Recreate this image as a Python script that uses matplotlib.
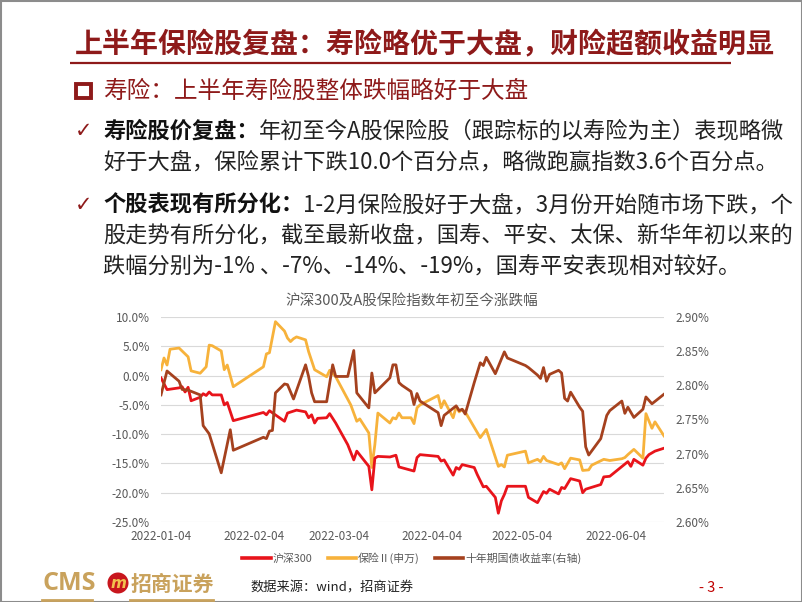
import matplotlib
matplotlib.use("Agg")
import matplotlib.pyplot as plt
import matplotlib.dates as mdates
import matplotlib.ticker as mticker
import pandas as pd
from matplotlib.patches import Rectangle, Circle

plt.rcParams['font.family'] = ['Noto Sans CJK SC', 'DejaVu Sans']

# ---------------- data ----------------
hs300_dates = ["2022-01-04","2022-01-06","2022-01-10","2022-01-11","2022-01-12","2022-01-13","2022-01-14","2022-01-17",
               "2022-01-18","2022-01-19","2022-01-20","2022-01-21","2022-01-24","2022-01-25","2022-01-26","2022-01-28",
               "2022-02-07","2022-02-08","2022-02-09","2022-02-14","2022-02-15","2022-02-18","2022-02-21","2022-02-22",
               "2022-02-23","2022-02-24","2022-02-25","2022-02-28",
               "2022-03-01","2022-03-03","2022-03-07","2022-03-09","2022-03-10","2022-03-14","2022-03-15","2022-03-16",
               "2022-03-17","2022-03-21","2022-03-23","2022-03-24","2022-03-29","2022-03-30","2022-03-31",
               "2022-04-06","2022-04-07","2022-04-08","2022-04-11","2022-04-12","2022-04-13","2022-04-14","2022-04-18",
               "2022-04-19","2022-04-21","2022-04-22","2022-04-25","2022-04-26","2022-04-27","2022-04-28","2022-04-29",
               "2022-05-05","2022-05-06","2022-05-09","2022-05-11","2022-05-12","2022-05-13","2022-05-16","2022-05-17",
               "2022-05-18","2022-05-20","2022-05-23","2022-05-24","2022-05-25","2022-05-30","2022-05-31",
               "2022-06-02","2022-06-08","2022-06-09","2022-06-10","2022-06-13","2022-06-14","2022-06-15","2022-06-17",
               "2022-06-20"]
hs300_values = [-0.4,-2.4,-2.1,-1.9,-2.8,-2.0,-4.3,-3.7,-3.1,-3.4,-2.8,-3.3,-3.3,-5.0,-4.6,-7.7,
                -6.3,-6.7,-6.0,-7.8,-6.4,-5.9,-6.2,-7.2,-6.7,-8.1,-7.3,-7.2,
                -6.5,-8.1,-11.8,-14.4,-12.9,-15.5,-19.5,-14.1,-13.8,-13.9,-13.6,-15.6,-16.3,-14.0,-13.5,
                -13.8,-14.6,-14.4,-17.0,-15.7,-16.0,-15.2,-15.7,-16.9,-19.0,-18.9,-20.8,-23.5,-21.4,-20.3,-18.9,
                -18.9,-20.8,-21.7,-19.8,-20.1,-19.4,-20.2,-19.1,-19.3,-17.6,-18.0,-20.0,-19.4,-18.6,-17.3,
                -17.2,-14.7,-15.5,-14.3,-15.3,-14.1,-13.5,-12.9,-12.4]

ins_dates = ["2022-01-04","2022-01-05","2022-01-06","2022-01-07","2022-01-10","2022-01-13","2022-01-14","2022-01-17",
             "2022-01-19","2022-01-20","2022-01-21","2022-01-24","2022-01-25","2022-01-26","2022-01-28",
             "2022-02-07","2022-02-08","2022-02-09","2022-02-11","2022-02-14","2022-02-15","2022-02-16","2022-02-17",
             "2022-02-18","2022-02-21","2022-02-22","2022-02-24","2022-02-28",
             "2022-03-01","2022-03-03","2022-03-08","2022-03-10","2022-03-11","2022-03-14","2022-03-15","2022-03-16",
             "2022-03-17","2022-03-21","2022-03-22","2022-03-23","2022-03-24","2022-03-25","2022-03-28","2022-03-29",
             "2022-03-30","2022-03-31",
             "2022-04-06","2022-04-07","2022-04-08","2022-04-11","2022-04-12","2022-04-13","2022-04-14","2022-04-15",
             "2022-04-20","2022-04-22","2022-04-26","2022-04-27","2022-04-28","2022-04-29",
             "2022-05-05","2022-05-06","2022-05-09","2022-05-10","2022-05-11","2022-05-12","2022-05-16","2022-05-17",
             "2022-05-18","2022-05-20","2022-05-23","2022-05-24","2022-05-26","2022-05-27","2022-05-31",
             "2022-06-02","2022-06-06","2022-06-07","2022-06-08","2022-06-10","2022-06-13","2022-06-14","2022-06-16",
             "2022-06-17","2022-06-20"]
ins_values = [1.0,3.0,1.8,4.5,4.7,3.2,0.8,0.4,1.5,5.2,5.1,4.2,1.0,1.8,-1.9,
              1.5,3.7,3.9,9.2,7.6,6.4,5.8,6.3,6.6,6.1,4.1,1.0,-0.2,
              0.9,-0.2,-5.0,-7.8,-7.4,-9.8,-15.7,-11.8,-6.4,-8.1,-7.2,-7.4,-6.4,-7.2,-7.2,-8.2,-5.5,-5.0,
              -3.4,-5.5,-4.3,-7.2,-5.3,-6.2,-5.8,-6.2,-10.6,-9.2,-15.5,-15.2,-15.6,-13.6,
              -12.9,-14.9,-14.3,-14.7,-13.8,-14.5,-15.2,-14.9,-15.9,-14.1,-14.4,-16.2,-16.1,-15.3,-14.3,
              -14.5,-14.2,-14.0,-13.5,-12.6,-14.1,-6.5,-9.0,-7.9,-10.3]

yield_dates = ["2022-01-04","2022-01-06","2022-01-10","2022-01-11","2022-01-13","2022-01-17","2022-01-18","2022-01-20",
               "2022-01-24","2022-01-27","2022-01-28",
               "2022-02-07","2022-02-08","2022-02-09","2022-02-10","2022-02-11","2022-02-14","2022-02-15","2022-02-17",
               "2022-02-21","2022-02-22","2022-02-23","2022-02-24","2022-02-28",
               "2022-03-02","2022-03-03","2022-03-07","2022-03-09","2022-03-10","2022-03-14","2022-03-15","2022-03-16",
               "2022-03-21","2022-03-22","2022-03-23","2022-03-24","2022-03-25","2022-03-28","2022-03-29","2022-03-30",
               "2022-03-31",
               "2022-04-06","2022-04-07","2022-04-08","2022-04-12","2022-04-13","2022-04-14","2022-04-15","2022-04-18",
               "2022-04-20","2022-04-21","2022-04-22","2022-04-25","2022-04-28","2022-04-29",
               "2022-05-05","2022-05-06","2022-05-09","2022-05-10","2022-05-11","2022-05-12","2022-05-13","2022-05-16",
               "2022-05-17","2022-05-18","2022-05-19","2022-05-20","2022-05-23","2022-05-24","2022-05-25","2022-05-26",
               "2022-05-30",
               "2022-06-01","2022-06-02","2022-06-06","2022-06-07","2022-06-08","2022-06-10","2022-06-13","2022-06-14",
               "2022-06-16","2022-06-20"]
yield_values = [2.786,2.821,2.806,2.794,2.793,2.786,2.741,2.729,2.672,2.735,2.705,
                2.724,2.722,2.733,2.734,2.789,2.802,2.801,2.780,2.830,2.813,2.789,2.776,2.776,
                2.830,2.813,2.813,2.851,2.789,2.767,2.818,2.789,2.811,2.830,2.830,2.804,2.800,2.791,2.772,2.788,2.777,
                2.760,2.741,2.756,2.770,2.763,2.765,2.758,2.804,2.833,2.829,2.841,2.817,2.849,2.840,
                2.829,2.826,2.815,2.810,2.826,2.806,2.816,2.822,2.818,2.781,2.777,2.790,2.768,2.762,2.710,2.698,2.722,
                2.756,2.763,2.777,2.759,2.768,2.753,2.765,2.783,2.773,2.787]

series_labels = ["沪深300", "保险Ⅱ(申万)", "十年期国债收益率(右轴)"]
left_ticks = [10, 5, 0, -5, -10, -15, -20, -25]
right_ticks = [2.90, 2.85, 2.80, 2.75, 2.70, 2.65, 2.60]
x_tick_dates = ["2022-01-04", "2022-02-04", "2022-03-04", "2022-04-04", "2022-05-04", "2022-06-04"]

title_text = "上半年保险股复盘：寿险略优于大盘，财险超额收益明显"
header_text = "寿险：上半年寿险股整体跌幅略好于大盘"
b1_bold = "寿险股价复盘："
b1_rest = "年初至今A股保险股（跟踪标的以寿险为主）表现略微"
b1_l2 = "好于大盘，保险累计下跌10.0个百分点，略微跑赢指数3.6个百分点。"
b2_bold = "个股表现有所分化："
b2_rest = "1-2月保险股好于大盘，3月份开始随市场下跌，个"
b2_l2 = "股走势有所分化，截至最新收盘，国寿、平安、太保、新华年初以来的"
b2_l3 = "跌幅分别为-1% 、-7%、-14%、-19%，国寿平安表现相对较好。"
chart_title = "沪深300及A股保险指数年初至今涨跌幅"
source_text = "数据来源：wind，招商证券"
page_text = "- 3 -"

# ---------------- figure ----------------
W, H = 802, 602
fig = plt.figure(figsize=(W / 100, H / 100), dpi=100)
fig.patch.set_facecolor("white")

ov = fig.add_axes([0, 0, 1, 1])
ov.set_xlim(0, W)
ov.set_ylim(H, 0)
ov.axis("off")
ov.set_zorder(0)

DARKRED = "#8E1A1A"
GOLD = "#C9A25C"

title = ov.text(75, 45, title_text, fontsize=18.6, fontweight="bold", color=DARKRED, va="center", ha="left")
ov.plot([70, 731], [63, 63], color=DARKRED, lw=1.6, solid_capstyle="butt")

ov.add_patch(Rectangle((76, 84), 15, 14, fill=False, edgecolor=DARKRED, lw=2.8))
ov.text(103, 91, header_text, fontsize=17, color=DARKRED, va="center", ha="left")

def bullet(y, bold, rest):
    ov.text(75, y, "✓", fontsize=15, color=DARKRED, va="center", ha="left",
            family=["DejaVu Sans"], fontweight="bold")
    t = ov.text(103, y, bold, fontsize=16, fontweight="bold", color="#111111", va="center", ha="left")
    ov.annotate(rest, xy=(1, 0.5), xycoords=t, va="center", ha="left", fontsize=16, color="#222222")

bullet(131, b1_bold, b1_rest)
ov.text(103, 162, b1_l2, fontsize=16, color="#222222", va="center", ha="left")
bullet(205, b2_bold, b2_rest)
ov.text(103, 236, b2_l2, fontsize=16, color="#222222", va="center", ha="left")
ov.text(103, 267, b2_l3, fontsize=16, color="#222222", va="center", ha="left")

ov.text(412, 302, chart_title, fontsize=10.5, color="#595959", va="center", ha="center")

# footer
ov.text(42, 584, "CMS", fontsize=18, fontweight="bold", color=GOLD, va="center", ha="left",
        family=["Open Sans", "DejaVu Sans"])
ov.add_patch(Circle((118, 583), 10.5, facecolor="#C8161D", edgecolor="none"))
ov.text(118, 583, "m", fontsize=11, fontweight="bold", fontstyle="italic", color="#F2C14E",
        va="center", ha="center", family=["DejaVu Sans"])
ov.text(131, 584, "招商证券", fontsize=15, fontweight="bold", color=GOLD, va="center", ha="left")
ov.plot([42, 92], [600, 600], color=GOLD, lw=2)
ov.plot([130, 213], [600, 600], color=GOLD, lw=2)
ov.text(250, 588, source_text, fontsize=9.5, color="#222222", va="center", ha="left")
ov.text(711, 588, page_text, fontsize=10.5, color="#C00000", va="center", ha="center")

ov.add_patch(Rectangle((0.5, 0.5), W - 1, H - 1, fill=False, edgecolor="#8C8C8C", lw=1.5))

# ---------------- chart ----------------
x0, x1, ytop, ybot = 161, 664, 317, 522
ax = fig.add_axes([x0 / W, 1 - ybot / H, (x1 - x0) / W, (ybot - ytop) / H])
ax.set_zorder(1)
ax.patch.set_alpha(0)

RED = "#E8141B"
YEL = "#F7B23B"
BRN = "#A5411E"

d_hs = pd.to_datetime(hs300_dates)
d_ins = pd.to_datetime(ins_dates)
d_y = pd.to_datetime(yield_dates)

l1, = ax.plot(d_hs, hs300_values, color=RED, lw=2.0, label=series_labels[0], zorder=3)
l2, = ax.plot(d_ins, ins_values, color=YEL, lw=2.0, label=series_labels[1], zorder=2)
ax.set_ylim(-25, 10)
ax.set_yticks(left_ticks)
ax.yaxis.set_major_formatter(mticker.FuncFormatter(lambda v, p: f"{v:.1f}%"))
ax.set_xlim(pd.Timestamp("2022-01-04"), pd.Timestamp("2022-06-20"))
ax.set_xticks(pd.to_datetime(x_tick_dates))
ax.xaxis.set_major_formatter(mdates.DateFormatter("%Y-%m-%d"))
ax.grid(axis="y", color="#D9D9D9", lw=0.8)
ax.set_axisbelow(True)
for s in ax.spines.values():
    s.set_visible(False)
ax.tick_params(axis="both", length=0, labelsize=8.5, labelcolor="#595959")
ax.tick_params(axis="y", pad=8)
ax.tick_params(axis="x", pad=6)

ax2 = ax.twinx()
l3, = ax2.plot(d_y, yield_values, color=BRN, lw=2.0, label=series_labels[2])
ax2.set_ylim(2.60, 2.90)
ax2.set_yticks(right_ticks)
ax2.yaxis.set_major_formatter(mticker.FuncFormatter(lambda v, p: f"{v:.2f}%"))
for s in ax2.spines.values():
    s.set_visible(False)
ax2.tick_params(axis="y", length=0, labelsize=8.5, labelcolor="#595959", pad=8)

leg = fig.legend([l1, l2, l3], series_labels, loc="center", bbox_to_anchor=(412 / W, 1 - 558 / H),
                 ncol=3, frameon=False, fontsize=7.8, handlelength=2.6, columnspacing=1.4,
                 handletextpad=0.2)
for t in leg.get_texts():
    t.set_color("#595959")
for h in leg.legend_handles:
    h.set_linewidth(2.6)

# fit title width to the reference (about 700 px)
fig.canvas.draw()
bb = title.get_window_extent()
title.set_fontsize(18.6 * 700.0 / bb.width)

fig.savefig("out.png", dpi=100, facecolor="white")
